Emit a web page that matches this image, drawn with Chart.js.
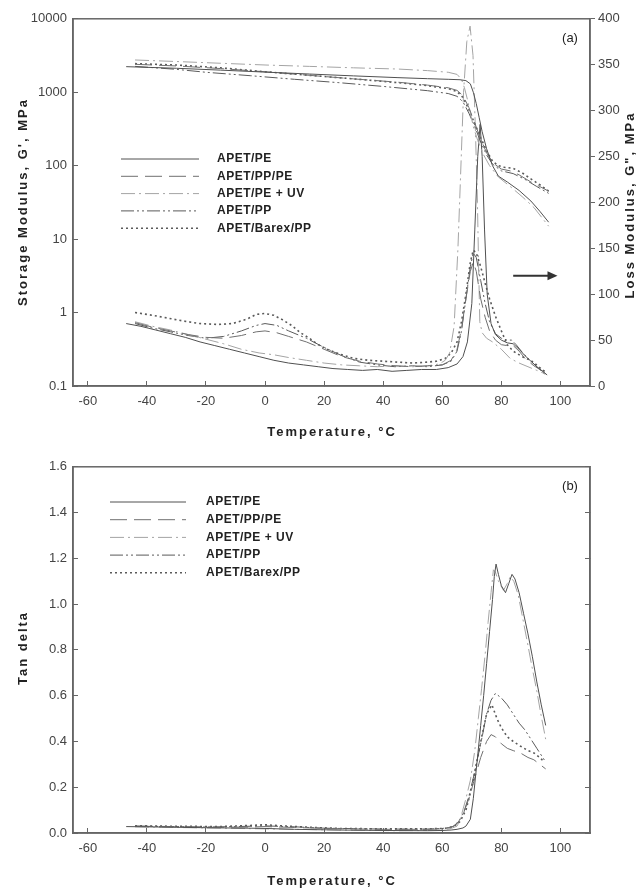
<!DOCTYPE html>
<html>
<head>
<meta charset="utf-8">
<script src="https://cdn.jsdelivr.net/npm/chart.js@4.4.1/dist/chart.umd.min.js"></script>
<style>
  html, body { margin: 0; padding: 0; background: #fff; }
  #wrap { position: relative; width: 640px; height: 891px; }
  canvas { position: absolute; left: 0; }
  #chartA { top: 0; }
  #chartB { top: 448px; }
</style>
</head>
<body>
<div id="wrap">
  <canvas id="chartA" width="640" height="448"></canvas>
  <canvas id="chartB" width="640" height="443"></canvas>
</div>
<script>
const seriesNames = ['APET/PE', 'APET/PP/PE', 'APET/PE + UV', 'APET/PP', 'APET/Barex/PP'];
const tempTicks = [-60, -40, -20, 0, 20, 40, 60, 80, 100];
const storageTicks = [0.1, 1, 10, 100, 1000, 10000];

// storage modulus G' (MPa, left log axis)
const gsT_PE = [-47, -30, -15, 0, 15, 30, 45, 55, 62, 66, 68, 69.5, 70.5, 71.5, 72.5, 73.5, 75, 77, 79, 82, 86, 90, 93, 96];
const gs_PE = [2230, 2120, 2000, 1880, 1770, 1670, 1580, 1530, 1500, 1480, 1440, 1300, 1000, 700, 450, 290, 170, 100, 72, 60, 46, 33, 24, 17];
const gsT_PPPE = [-44, -30, -15, 0, 15, 30, 45, 55, 62, 65, 67, 69, 71, 73, 75, 77, 80, 83, 86, 90, 93, 96];
const gs_PPPE = [2400, 2280, 2100, 1900, 1700, 1520, 1370, 1250, 1150, 1060, 900, 620, 380, 230, 150, 110, 90, 85, 75, 60, 52, 45];
const gsT_UV = [-44, -30, -15, 0, 15, 30, 45, 55, 62, 65, 66.5, 67.5, 68.5, 69.5, 70.5, 72, 74, 76, 79, 83, 87, 91, 96];
const gs_UV = [2750, 2620, 2480, 2350, 2250, 2150, 2070, 1970, 1870, 1750, 1500, 1150, 800, 520, 340, 220, 140, 100, 70, 52, 38, 27, 15];
const gsT_PP = [-44, -30, -20, -5, 10, 25, 40, 55, 62, 65, 67, 69, 71, 73, 75, 77, 80, 84, 88, 92, 96];
const gs_PP = [2250, 2050, 1870, 1680, 1500, 1350, 1200, 1050, 960, 880, 740, 520, 340, 210, 140, 105, 85, 78, 65, 52, 42];
const gsT_BX = [-44, -30, -15, 0, 15, 30, 45, 55, 62, 65, 67, 69, 71, 73, 75, 77, 79, 81, 84, 87, 90, 93, 96];
const gs_BX = [2450, 2350, 2150, 1900, 1700, 1520, 1350, 1230, 1120, 1020, 850, 580, 370, 240, 160, 115, 100, 95, 92, 80, 66, 55, 45];

// loss modulus G'' (MPa, right axis)
const glT_PE = [-47, -42, -37, -32, -27, -22, -17, -12, -7, -2, 3, 8, 13, 18, 23, 28, 33, 38, 43, 48, 53, 58, 62, 65, 67, 68.5, 70, 71, 72, 72.8, 73.5, 74.3, 75.2, 76.5, 78, 80, 82, 84, 86, 88, 90, 92, 94, 95.5];
const gl_PE = [68, 65, 61, 57, 53, 48, 44, 40, 36, 32, 28, 25, 23, 21, 19, 18, 17, 18, 16, 17, 18, 18, 20, 24, 32, 48, 90, 170, 250, 285, 250, 170, 100, 68, 56, 50, 47, 46, 40, 33, 27, 21, 16, 12];
const glT_PPPE = [-44, -38, -32, -26, -20, -14, -8, -3, 0, 4, 8, 14, 20, 26, 32, 38, 44, 50, 55, 60, 63, 65, 66.5, 68, 69.5, 70.5, 71.5, 73, 74.5, 76, 78, 80, 82, 84, 86, 88, 91, 95];
const gl_PPPE = [69, 64, 60, 56, 53, 52, 55, 59, 60, 58, 54, 48, 40, 32, 27, 24, 22, 21, 22, 23, 28, 40, 62, 95, 125, 135, 125, 95, 75, 60, 50, 45, 44, 44, 38, 30, 22, 14];
const glT_UV = [-44, -38, -32, -26, -20, -14, -8, -2, 3, 8, 14, 20, 26, 32, 38, 44, 50, 55, 59, 61, 62.5, 64, 65.3, 66.2, 67.2, 68.3, 69.4, 70.4, 71.2, 71.9, 72.3, 72.7, 73.5, 75, 77, 80, 83, 86, 89, 92, 95];
const gl_UV = [70, 65, 61, 56, 51, 46, 40, 36, 34, 31, 28, 25, 23, 22, 21, 22, 21, 22, 24, 28, 36, 65, 150, 230, 320, 375, 392, 360, 280, 200, 130, 70, 58, 52, 48, 40, 30, 25, 21, 17, 13];
const glT_PP = [-44, -38, -32, -26, -20, -14, -8, -3, 0, 4, 8, 14, 20, 26, 32, 38, 44, 50, 55, 60, 63, 65, 66.5, 68, 69.5, 70.5, 71.5, 73, 74.5, 76, 78, 80, 82, 83.5, 85, 87, 89, 91, 93, 95];
const gl_PP = [68, 63, 59, 55, 52, 54, 60, 66, 68, 66, 60, 52, 42, 33, 26, 23, 21, 22, 21, 23, 27, 38, 60, 95, 130, 145, 140, 115, 90, 70, 57, 52, 50, 50, 45, 37, 30, 24, 18, 12];
const glT_BX = [-44, -38, -33, -28, -22, -16, -11, -6, -3, 0, 3, 6, 9, 12, 15, 18, 21, 25, 30, 35, 40, 45, 50, 55, 58, 61, 63, 65, 66.5, 68, 69.5, 70.5, 71.5, 73, 74.5, 76, 78, 80, 82, 84, 87, 90, 93, 95];
const gl_BX = [80, 77, 74, 71, 68, 67, 68, 73, 78, 79, 77, 72, 66, 58, 52, 45, 40, 35, 30, 28, 27, 26, 25, 26, 27, 30, 36, 48, 70, 100, 135, 148, 145, 130, 112, 95, 76, 60, 45, 38, 32, 28, 20, 15];

// tan delta
const tdT_PE = [-47, -35, -20, -5, 0, 10, 25, 40, 55, 60, 63, 65, 67, 68, 69.5, 70.5, 71.2, 72, 73, 74, 75, 76, 77, 77.6, 78.2, 79, 80, 81.4, 82.5, 83.6, 84.6, 86, 87.5, 89, 90.5, 92, 93.5, 95];
const td_PE = [0.028, 0.026, 0.023, 0.021, 0.02, 0.016, 0.013, 0.011, 0.01, 0.011, 0.013, 0.016, 0.022, 0.03, 0.06, 0.15, 0.24, 0.34, 0.47, 0.6, 0.74, 0.88, 1.02, 1.12, 1.175, 1.13, 1.08, 1.05, 1.09, 1.13, 1.11, 1.05, 0.96, 0.87, 0.77, 0.66, 0.56, 0.47];
const tdT_PPPE = [-44, -30, -20, -5, 0, 10, 20, 30, 40, 50, 55, 60, 63, 65, 67, 69, 71, 73, 75, 76.5, 78, 80, 82, 84, 86.4, 89, 91, 93, 95];
const td_PPPE = [0.03, 0.027, 0.025, 0.026, 0.028, 0.024, 0.02, 0.018, 0.016, 0.016, 0.016, 0.018, 0.025, 0.04, 0.08, 0.15, 0.24, 0.33, 0.4, 0.43, 0.42, 0.39, 0.37, 0.36, 0.35, 0.33, 0.32, 0.3, 0.28];
const tdT_UV = [-44, -30, -15, 0, 15, 30, 45, 55, 60, 63, 65, 66, 68, 69.5, 71, 72.2, 73.3, 74.5, 75.5, 76.5, 77.3, 78, 79, 80.7, 82, 83, 84.2, 85.7, 87.2, 88.7, 90.3, 92, 93.5, 95];
const td_UV = [0.027, 0.024, 0.021, 0.018, 0.015, 0.012, 0.01, 0.011, 0.014, 0.02, 0.03, 0.056, 0.15, 0.23, 0.36, 0.5, 0.63, 0.78, 0.92, 1.05, 1.15, 1.14, 1.1, 1.06, 1.09, 1.12, 1.1, 1.04, 0.94, 0.84, 0.73, 0.62, 0.51, 0.41];
const tdT_PP = [-44, -30, -20, -10, 0, 10, 20, 30, 40, 50, 55, 60, 62, 64, 66, 67.5, 69, 70.5, 72, 73.5, 75, 76.5, 78, 80, 82, 84, 86, 88, 90, 92, 94, 95];
const td_PP = [0.03, 0.028, 0.026, 0.028, 0.031, 0.027, 0.021, 0.019, 0.017, 0.017, 0.017, 0.02, 0.023, 0.03, 0.06, 0.1, 0.16, 0.24, 0.33, 0.42, 0.52, 0.58, 0.61, 0.59, 0.56, 0.52, 0.48, 0.45, 0.41, 0.37, 0.33, 0.31];
const tdT_BX = [-44, -35, -25, -15, -5, 0, 5, 15, 25, 40, 55, 60, 62, 64, 66, 68, 70, 72, 73.5, 75, 76.8, 78.5, 80, 82, 84, 86.4, 89, 91, 93, 94.5];
const td_BX = [0.032, 0.03, 0.029, 0.028, 0.033, 0.036, 0.032, 0.025, 0.02, 0.018, 0.018, 0.02, 0.022, 0.03, 0.05, 0.1, 0.2, 0.33, 0.43, 0.52, 0.56, 0.5, 0.46, 0.42, 0.4, 0.38, 0.36, 0.35, 0.33, 0.31];

// arrow pointing at the loss modulus axis
const arrowFrom = 84, arrowTo = 99, arrowLevel = 120;

const FONT = "'Liberation Sans', Arial, Helvetica, sans-serif";
const AXIS = '#666';
Chart.defaults.font.family = FONT;
Chart.defaults.color = '#444';
Chart.defaults.animation = false;

const looks = [
  { color: '#505050', dash: [], width: 1 },
  { color: '#707070', dash: [17, 7], width: 1 },
  { color: '#a4a4a4', dash: [14, 4, 2, 4], width: 1 },
  { color: '#5a5a5a', dash: [13, 3, 2, 3, 2, 3], width: 1 },
  { color: '#5a5a5a', dash: [2, 3], width: 1.6 }
];

function pts(xs, ys) {
  return xs.map((x, i) => ({ x: x, y: ys[i] }));
}

function line(i, xs, ys, axis) {
  const s = looks[i];
  return {
    label: seriesNames[i],
    data: pts(xs, ys),
    yAxisID: axis,
    borderColor: s.color,
    borderWidth: s.width,
    borderDash: s.dash,
    pointRadius: 0,
    tension: 0,
    fill: false
  };
}

function drawText(ctx, text, x, y, rot, font, spacing) {
  ctx.save();
  ctx.translate(x, y);
  ctx.rotate(rot);
  ctx.font = font;
  ctx.letterSpacing = spacing || '0px';
  ctx.fillStyle = '#222';
  ctx.textAlign = 'center';
  ctx.textBaseline = 'middle';
  ctx.fillText(text, 0, 0);
  ctx.restore();
}

function drawLegend(ctx, x0, x1, tx, y0, step) {
  ctx.save();
  seriesNames.forEach((name, i) => {
    const s = looks[i];
    const y = y0 + i * step;
    ctx.beginPath();
    ctx.setLineDash(s.dash);
    ctx.strokeStyle = s.color;
    ctx.lineWidth = s.width;
    ctx.moveTo(x0, y);
    ctx.lineTo(x1, y);
    ctx.stroke();
    ctx.setLineDash([]);
    ctx.font = 'bold 12px ' + FONT;
    ctx.letterSpacing = '0.5px';
    ctx.fillStyle = '#222';
    ctx.textAlign = 'left';
    ctx.textBaseline = 'middle';
    ctx.fillText(name, tx, y);
  });
  ctx.restore();
}

function frame(chart) {
  const { ctx, chartArea: a } = chart;
  ctx.save();
  ctx.strokeStyle = AXIS;
  ctx.lineWidth = 1.5;
  ctx.strokeRect(a.left, a.top, a.right - a.left, a.bottom - a.top);
  ctx.restore();
}

function tempAxis(h) {
  return {
    type: 'linear', min: -65, max: 110,
    afterBuildTicks: s => { s.ticks = tempTicks.map(v => ({ value: v })); },
    afterFit: s => { s.height = h; },
    ticks: { padding: 13, font: { size: 13 }, color: '#444' },
    grid: { drawOnChartArea: false, tickLength: -5, color: AXIS },
    border: { color: AXIS, width: 1.5 }
  };
}

const decorA = {
  id: 'decorA',
  afterDatasetsDraw(chart) {
    const ctx = chart.ctx;
    frame(chart);
    drawLegend(ctx, 121, 199, 217, 159, 17.3);
    drawText(ctx, '(a)', 570, 38, 0, '13px ' + FONT);
    drawText(ctx, 'Temperature, °C', 332, 432, 0, 'bold 13px ' + FONT, '2px');
    drawText(ctx, "Storage Modulus, G', MPa", 23, 202, -Math.PI / 2, 'bold 13px ' + FONT, '2px');
    drawText(ctx, 'Loss Modulus, G", MPa', 630, 205, -Math.PI / 2, 'bold 13px ' + FONT, '2px');
    // arrow
    const x = chart.scales.x, yR = chart.scales.yR;
    const y = yR.getPixelForValue(arrowLevel);
    const xa = x.getPixelForValue(arrowFrom), xb = x.getPixelForValue(arrowTo);
    ctx.save();
    ctx.strokeStyle = '#333';
    ctx.fillStyle = '#333';
    ctx.lineWidth = 2;
    ctx.beginPath();
    ctx.moveTo(xa, y);
    ctx.lineTo(xb - 8, y);
    ctx.stroke();
    ctx.beginPath();
    ctx.moveTo(xb, y);
    ctx.lineTo(xb - 10, y - 4.5);
    ctx.lineTo(xb - 10, y + 4.5);
    ctx.closePath();
    ctx.fill();
    ctx.restore();
  }
};

const decorB = {
  id: 'decorB',
  afterDatasetsDraw(chart) {
    const ctx = chart.ctx;
    frame(chart);
    drawLegend(ctx, 110, 186, 206, 54, 17.7);
    drawText(ctx, '(b)', 570, 38, 0, '13px ' + FONT);
    drawText(ctx, 'Temperature, °C', 332, 433, 0, 'bold 13px ' + FONT, '2px');
    drawText(ctx, 'Tan delta', 23, 200, -Math.PI / 2, 'bold 13px ' + FONT, '2px');
  }
};

new Chart(document.getElementById('chartA'), {
  type: 'line',
  data: {
    datasets: [
      line(0, gsT_PE, gs_PE, 'y'),
      line(1, gsT_PPPE, gs_PPPE, 'y'),
      line(2, gsT_UV, gs_UV, 'y'),
      line(3, gsT_PP, gs_PP, 'y'),
      line(4, gsT_BX, gs_BX, 'y'),
      line(0, glT_PE, gl_PE, 'yR'),
      line(1, glT_PPPE, gl_PPPE, 'yR'),
      line(2, glT_UV, gl_UV, 'yR'),
      line(3, glT_PP, gl_PP, 'yR'),
      line(4, glT_BX, gl_BX, 'yR')
    ]
  },
  options: {
    responsive: false,
    layout: { padding: { top: 18, left: 0, right: 0, bottom: 0 } },
    plugins: { legend: { display: false }, tooltip: { enabled: false } },
    scales: {
      x: tempAxis(62),
      y: {
        type: 'logarithmic', position: 'left', min: 0.1, max: 10000,
        afterBuildTicks: s => { s.ticks = storageTicks.map(v => ({ value: v })); },
        afterFit: s => { s.width = 73; },
        ticks: { padding: 11, font: { size: 13 }, color: '#444', callback: v => String(v) },
        grid: { drawOnChartArea: false, tickLength: -5, color: AXIS },
        border: { color: AXIS, width: 1.5 }
      },
      yR: {
        type: 'linear', position: 'right', min: 0, max: 400,
        afterFit: s => { s.width = 50; },
        ticks: { stepSize: 50, padding: 3, font: { size: 13 }, color: '#444' },
        grid: { drawOnChartArea: false, tickLength: 5, color: AXIS },
        border: { color: AXIS, width: 1.5 }
      }
    }
  },
  plugins: [decorA]
});

new Chart(document.getElementById('chartB'), {
  type: 'line',
  data: {
    datasets: [
      line(0, tdT_PE, td_PE, 'y'),
      line(1, tdT_PPPE, td_PPPE, 'y'),
      line(2, tdT_UV, td_UV, 'y'),
      line(3, tdT_PP, td_PP, 'y'),
      line(4, tdT_BX, td_BX, 'y')
    ]
  },
  options: {
    responsive: false,
    layout: { padding: { top: 16, left: 0, right: 0, bottom: 0 } },
    plugins: { legend: { display: false }, tooltip: { enabled: false } },
    scales: {
      x: tempAxis(58),
      y: {
        type: 'linear', position: 'left', min: 0, max: 1.6,
        afterFit: s => { s.width = 73; },
        ticks: { stepSize: 0.2, padding: 11, font: { size: 13 }, color: '#444', callback: v => v.toFixed(1) },
        grid: { drawOnChartArea: false, tickLength: -5, color: AXIS },
        border: { color: AXIS, width: 1.5 }
      },
      yR: {
        type: 'linear', position: 'right', min: 0, max: 1.6,
        afterFit: s => { s.width = 50; },
        ticks: { stepSize: 0.2, callback: () => '' },
        grid: { drawOnChartArea: false, tickLength: -5, color: AXIS },
        border: { color: AXIS, width: 1.5 }
      }
    }
  },
  plugins: [decorB]
});
</script>
</body>
</html>
